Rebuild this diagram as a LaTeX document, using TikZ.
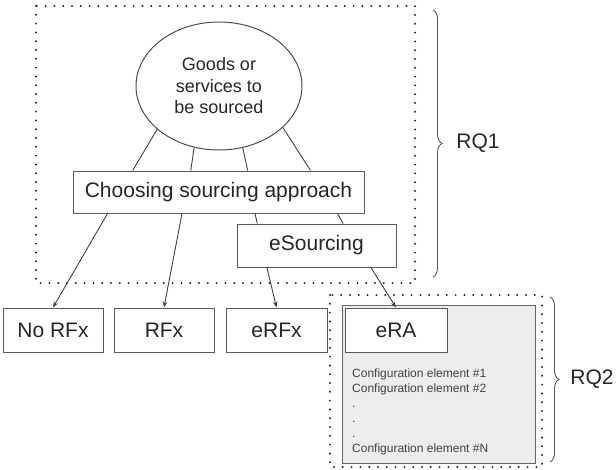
\documentclass[tikz,border=0pt]{standalone}
\usepackage{fontspec}
\setmainfont{Liberation Sans}
\usetikzlibrary{shapes.geometric,calc,decorations.pathreplacing,arrows.meta,positioning}

\begin{document}
\begin{tikzpicture}[x=1pt,y=-1pt,
  box/.style={draw=black!65, fill=white, line width=1pt, minimum height=44pt, inner sep=0pt,
    font=\fontsize{21}{25}\selectfont, text=black!85},
  link/.style={draw=black!75, line width=0.9pt},
  arr/.style={link, -{Stealth[length=6pt,width=4.5pt]}},
  rqframe/.style={draw=black!85, line width=2.2pt, line cap=round, dash pattern=on 0pt off 8.8pt},
  rqbrace/.style={draw=black!65, line width=0.9pt, decorate, decoration={brace, amplitude=9pt}}]

\useasboundingbox (0,0) rectangle (616,469);

%Dotted Frames
\draw [rqframe] (36,6) rectangle (415,283);
\draw [rqframe] (330,295) rectangle (542,467);

%Boxes
\node (goods) [ellipse, draw=black!70, line width=1pt, minimum width=166pt, minimum height=128pt,
  inner sep=0pt, align=center, font=\fontsize{18}{21.5}\selectfont, text=black!85]
  at (219,86) {Goods or\\services to\\be sourced};
\node (choose) [box, minimum width=291pt, minimum height=42pt] at (218.5,192) {Choosing sourcing approach};
\node (esrc) [box, minimum width=159pt, minimum height=43pt] at (316.5,245.5) {eSourcing};
\node (norfx) [box, minimum width=100pt] at (53,330) {No RFx};
\node (rfx) [box, minimum width=100pt, right=10pt of norfx] {RFx};
\node (erfx) [box, minimum width=101pt, right=11pt of rfx] {eRFx};

%eRA Panel
\node (panel) [draw=black!60, fill=black!7, line width=1pt, minimum width=193pt, minimum height=158pt]
  at (438.5,384) {};
\node (era) [box, minimum width=102pt] at (396,330) {eRA};
\node (cfg) [anchor=north west, inner sep=0pt, align=left, font=\fontsize{12}{14.9}\selectfont, text=black!75]
  at (352,369) {Configuration element \#1\\Configuration element \#2\\.\\.\\.\\Configuration element \#N};

%Connectors
\draw [link] (goods.215) -- ($(choose.north west)!0.206!(choose.north east)$);
\draw [link] (goods.248) -- ($(choose.north west)!0.405!(choose.north east)$);
\draw [link] (goods.291) -- ($(choose.north west)!0.60!(choose.north east)$);
\draw [link] (goods.327) -- ($(choose.north west)!0.815!(choose.north east)$);
\draw [arr] ($(choose.south west)!0.12!(choose.south east)$) -- (norfx.north);
\draw [arr] ($(choose.south west)!0.375!(choose.south east)$) -- (rfx.north);
\draw [link] ($(choose.south west)!0.625!(choose.south east)$) -- ($(esrc.north west)!0.13!(esrc.north east)$);
\draw [link] ($(choose.south west)!0.907!(choose.south east)$) -- ($(esrc.north west)!0.667!(esrc.north east)$);
\draw [arr] ($(esrc.south west)!0.19!(esrc.south east)$) -- (erfx.north);
\draw [arr] ($(esrc.south west)!0.84!(esrc.south east)$) -- (era.north);

%Braces & Labels
\draw [rqbrace] (433,10) -- node [right=23pt, inner sep=0pt, font=\fontsize{21}{25}\selectfont, text=black!85] (rq1) {RQ1} (433,277);
\draw [rqbrace] (550,297) -- node [right=20pt, inner sep=0pt, font=\fontsize{21}{25}\selectfont, text=black!85] (rq2) {RQ2} (550,462);
\end{tikzpicture}
\end{document}
